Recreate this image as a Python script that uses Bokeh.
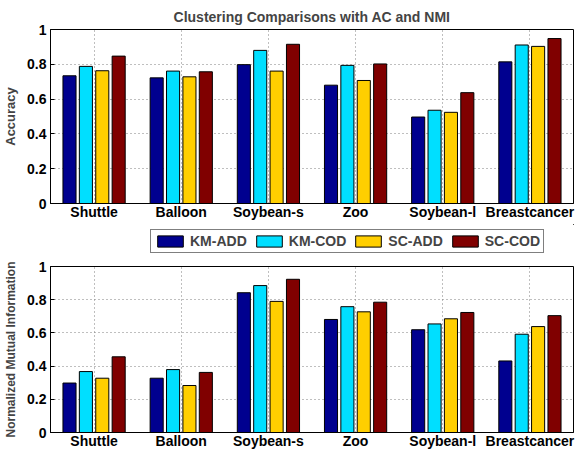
from bokeh.plotting import figure
from bokeh.layouts import column
from bokeh.models import ColumnDataSource, FixedTicker, Legend, LegendItem, FactorRange, Range1d
from bokeh.transform import dodge
from bokeh.embed import file_html
from bokeh.resources import INLINE

datasets = ["Shuttle", "Balloon", "Soybean-s", "Zoo", "Soybean-l", "Breastcancer"]
series = ["KM-ADD", "KM-COD", "SC-ADD", "SC-COD"]
colors = ["#00008F", "#00DFFF", "#FFCF00", "#800000"]

acc_km_add = [0.734, 0.722, 0.798, 0.680, 0.497, 0.814]
acc_km_cod = [0.788, 0.761, 0.880, 0.794, 0.536, 0.911]
acc_sc_add = [0.763, 0.728, 0.761, 0.707, 0.524, 0.903]
acc_sc_cod = [0.847, 0.757, 0.915, 0.802, 0.637, 0.948]

nmi_km_add = [0.298, 0.327, 0.842, 0.681, 0.619, 0.431]
nmi_km_cod = [0.367, 0.379, 0.885, 0.758, 0.654, 0.592]
nmi_sc_add = [0.327, 0.283, 0.790, 0.727, 0.685, 0.638]
nmi_sc_cod = [0.456, 0.362, 0.923, 0.785, 0.723, 0.704]

y_ticks = [0, 0.2, 0.4, 0.6, 0.8, 1.0]
y_tick_labels = ["0", "0.2", "0.4", "0.6", "0.8", "1"]

offsets = [-0.282, -0.094, 0.094, 0.282]
bar_w = 0.15
FONT = "Liberation Sans"
W = 576


def style(p, ylabel, label_size):
    p.y_range = Range1d(0, 1)
    p.yaxis.ticker = FixedTicker(ticks=y_ticks)
    p.yaxis.major_label_overrides = {t: l for t, l in zip(y_ticks, y_tick_labels)}
    p.yaxis.axis_label = ylabel
    p.yaxis.axis_label_text_font = FONT
    p.yaxis.axis_label_text_font_style = "bold"
    p.yaxis.axis_label_text_font_size = label_size
    p.yaxis.axis_label_standoff = 6
    for ax in (p.xaxis, p.yaxis):
        ax.major_label_text_font = FONT
        ax.major_label_text_font_style = "bold"
        ax.major_label_text_font_size = "14px"
        ax.major_label_text_color = "black"
        ax.axis_line_color = "black"
        ax.major_tick_line_color = "black"
        ax.major_tick_out = 0
        ax.minor_tick_line_color = None
    p.yaxis.major_tick_in = 4
    p.xaxis.major_tick_in = 0
    p.xaxis.major_label_text_line_height = 1.0
    p.xaxis.major_label_standoff = 0
    p.xaxis.axis_label_standoff = 0
    p.yaxis.major_label_standoff = 4
    p.outline_line_color = "black"
    p.outline_line_alpha = 1
    p.grid.grid_line_color = "#7f7f7f"
    p.grid.grid_line_dash = "1 3"
    p.grid.grid_line_width = 1
    p.x_range.range_padding = 0
    p.background_fill_color = "white"
    p.border_fill_color = "white"


def bars(p, vals):
    src = ColumnDataSource(dict(x=datasets, a=vals[0], b=vals[1], c=vals[2], d=vals[3]))
    for key, off, col in zip(["a", "b", "c", "d"], offsets, colors):
        p.vbar(x=dodge("x", off, range=p.x_range), top=key, width=bar_w, bottom=0,
               source=src, fill_color=col, line_color="black", line_width=1)


p1 = figure(x_range=FactorRange(*datasets), width=W, height=224,
            output_backend="svg", toolbar_location=None,
            min_border_left=45, min_border_right=3, min_border_top=29, min_border_bottom=21,
            title="Clustering Comparisons with AC and NMI")
p1.title.align = "center"
p1.title.text_font = FONT
p1.title.text_font_style = "bold"
p1.title.text_font_size = "14px"
style(p1, "Accuracy", "13px")
bars(p1, [acc_km_add, acc_km_cod, acc_sc_add, acc_sc_cod])

# legend strip between the two panels
pl = figure(width=W, height=31, output_backend="svg", toolbar_location=None,
            x_range=Range1d(0, 1), y_range=Range1d(0, 1),
            min_border_left=0, min_border_right=0, min_border_top=0, min_border_bottom=0)
pl.axis.visible = False
pl.grid.visible = False
pl.outline_line_color = None
offscreen = ColumnDataSource(dict(x=[5.0], top=[5.0]))
lrs = [pl.vbar(x="x", top="top", width=0.1, bottom=4.0, source=offscreen, fill_color=c,
               line_color="black", line_width=1) for c in colors]
legend = Legend(items=[LegendItem(label=s, renderers=[r]) for s, r in zip(series, lrs)],
                orientation="horizontal", location=(100, 2))
legend.glyph_width = 32
legend.glyph_height = 14
legend.label_text_font = FONT
legend.label_text_font_style = "bold"
legend.label_text_font_size = "14px"
legend.label_standoff = 4
legend.spacing = 6
legend.padding = 3
legend.margin = 0
legend.border_line_color = "black"
legend.border_line_width = 1
legend.background_fill_alpha = 1
pl.add_layout(legend, "center")

p2 = figure(x_range=FactorRange(*datasets), width=W, height=198,
            output_backend="svg", toolbar_location=None,
            min_border_left=45, min_border_right=3, min_border_top=11, min_border_bottom=21)
style(p2, "Normalized Mutual Information", "12px")
bars(p2, [nmi_km_add, nmi_km_cod, nmi_sc_add, nmi_sc_cod])

layout = column(p1, pl, p2, spacing=0)
open("out.html", "w").write(file_html(layout, INLINE))
